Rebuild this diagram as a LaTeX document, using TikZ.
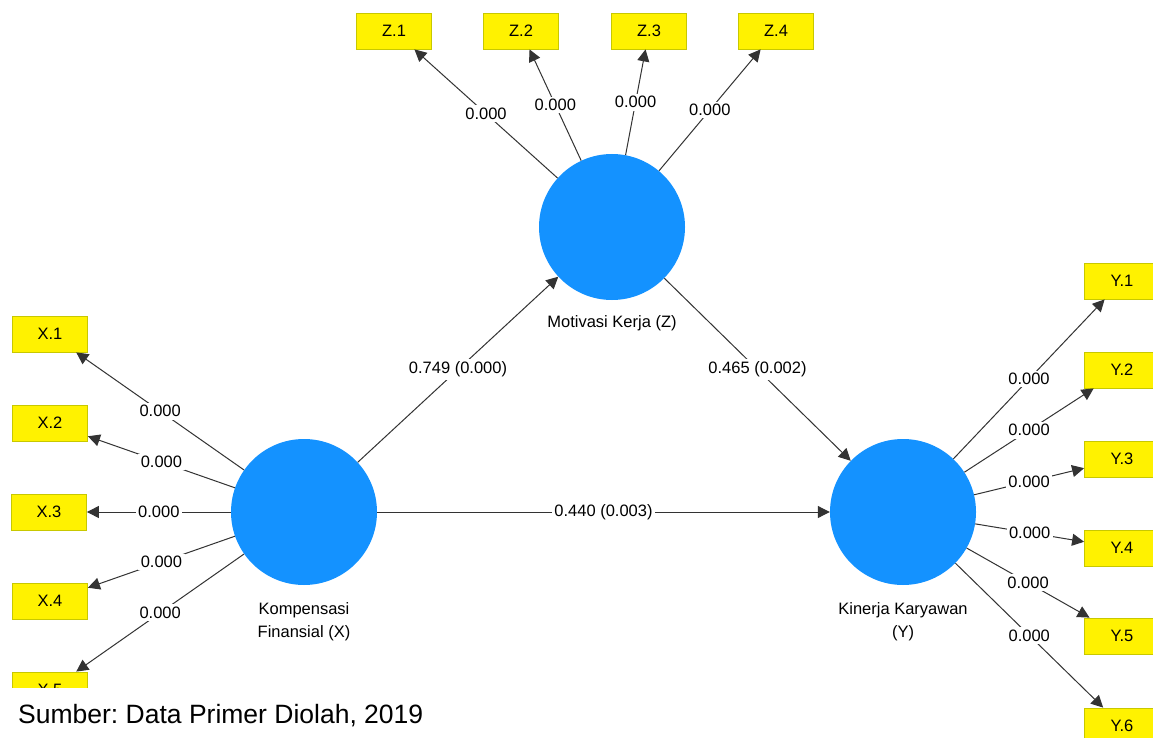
\documentclass[tikz,border=0pt]{standalone}
\usepackage{fontspec}
\setmainfont{Liberation Sans}
\usetikzlibrary{arrows.meta}
\frenchspacing

\tikzset{
  latent/.style={circle, fill=lvblue, minimum size=146pt, inner sep=0pt},
  indic/.style={rectangle, fill=yellow, draw=indborder, line width=0.8pt, minimum width=75pt, minimum height=36pt, inner sep=0pt, font=\fontsize{16.5}{20}\selectfont},
  linkarrow/.style={draw=linegray, line width=1pt, -{Triangle[length=12pt, width=12pt]}},
  coef/.style={fill=white, inner sep=2.5pt, text=black, font=\fontsize{16.5}{20}\selectfont},
  lvtext/.style={inner sep=0pt, text=black, font=\fontsize{16.5}{23}\selectfont}
}

\begin{document}
\begin{tikzpicture}[x=1pt, y=-1pt]
\definecolor{lvblue}{HTML}{1492FF}
\definecolor{indborder}{HTML}{C8C800}
\definecolor{linegray}{HTML}{333333}
\clip (0,0) rectangle (1153,738);
\fill[white] (0,0) rectangle (1153,738);

% latent variables
\node[latent] (komp) at (304,512) {};
\node[latent] (mot) at (612,227) {};
\node[latent] (kin) at (903,512) {};
\node[lvtext] (motlbl) at (612,323) {Motivasi Kerja (Z)};
\node[lvtext, align=center] (komplbl) at (304,622) {Kompensasi\\Finansial (X)};
\node[lvtext, align=center] (kinlbl) at (903,622) {Kinerja Karyawan\\(Y)};

% indicators
\node[indic] (Z1) at (394,31) {Z.1};
\node[indic] (Z2) at (521,31) {Z.2};
\node[indic] (Z3) at (649,31) {Z.3};
\node[indic] (Z4) at (776,31) {Z.4};
\node[indic] (X1) at (50,334) {X.1};
\node[indic] (X2) at (50,423) {X.2};
\node[indic] (X3) at (49,512) {X.3};
\node[indic] (X4) at (50,601) {X.4};
\node[indic] (X5) at (50,690) {X.5};
\node[indic] (Y1) at (1122,281) {Y.1};
\node[indic] (Y2) at (1122,370) {Y.2};
\node[indic] (Y3) at (1122,459) {Y.3};
\node[indic] (Y4) at (1122,548) {Y.4};
\node[indic] (Y5) at (1122,636) {Y.5};
\node[indic] (Y6) at (1122,726) {Y.6};

% outer loadings
\draw[linkarrow] (mot) -- node[coef] {0.000} (Z1);
\draw[linkarrow] (mot) -- node[coef] {0.000} (Z2);
\draw[linkarrow] (mot) -- node[coef] {0.000} (Z3);
\draw[linkarrow] (mot) -- node[coef] {0.000} (Z4);
\draw[linkarrow] (komp) -- node[coef] {0.000} (X1);
\draw[linkarrow] (komp) -- node[coef] {0.000} (X2);
\draw[linkarrow] (komp) -- node[coef] {0.000} (X3);
\draw[linkarrow] (komp) -- node[coef] {0.000} (X4);
\draw[linkarrow] (komp) -- node[coef] {0.000} (X5);
\draw[linkarrow] (kin) -- node[coef] {0.000} (Y1);
\draw[linkarrow] (kin) -- node[coef] {0.000} (Y2);
\draw[linkarrow] (kin) -- node[coef] {0.000} (Y3);
\draw[linkarrow] (kin) -- node[coef] {0.000} (Y4);
\draw[linkarrow] (kin) -- node[coef] {0.000} (Y5);
\draw[linkarrow] (kin) -- node[coef] {0.000} (Y6);

% inner model
\draw[linkarrow] (komp) -- node[coef] {0.749 (0.000)} (mot);
\draw[linkarrow] (mot) -- node[coef] {0.465 (0.002)} (kin);
\draw[linkarrow] (komp) -- node[coef] {0.440 (0.003)} (kin);

% source note
\fill[white] (0,688) rectangle (460,738);
\node[inner sep=0pt, anchor=base west, font=\fontsize{26.5}{30}\selectfont] (sumber) at (18,723) {Sumber: Data Primer Diolah, 2019};
\end{tikzpicture}
\end{document}
